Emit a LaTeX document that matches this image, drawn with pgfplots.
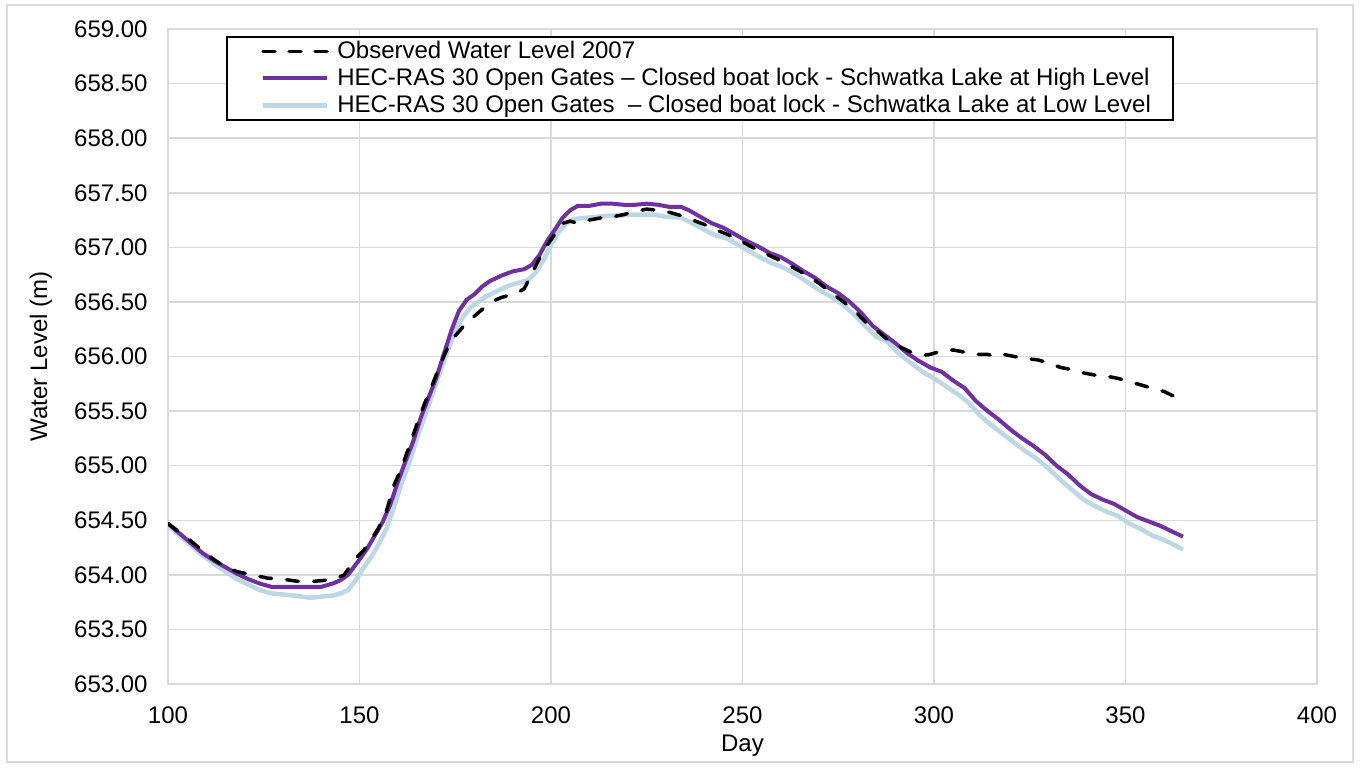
\documentclass[border=0pt]{standalone}
\usepackage{pgfplots}
\pgfplotsset{compat=1.18}
\usepackage{fontspec}
\setmainfont{Liberation Sans}
\definecolor{gridgray}{HTML}{D9D9D9}
\definecolor{highpurple}{HTML}{7030A0}
\definecolor{lowblue}{HTML}{BDD7E5}

\begin{document}
\fontsize{12}{14}\selectfont
\begin{tikzpicture}
\useasboundingbox (0,0) rectangle (682pt,383.5pt);
\draw[gridgray, line width=0.75pt] (3.5pt,2.5pt) rectangle (676.5pt,381pt);
\begin{axis}[
  at={(84pt,41.5pt)}, anchor=south west,
  scale only axis, width=574.5pt, height=327.5pt,
  xmin=100, xmax=400, ymin=653, ymax=659,
  xtick={100,150,200,250,300,350,400},
  ytick={653,653.5,654,654.5,655,655.5,656,656.5,657,657.5,658,658.5,659},
  /pgf/number format/assume math mode=true,
  y tick label style={/pgf/number format/fixed, /pgf/number format/fixed zerofill, /pgf/number format/precision=2},
  x tick label style={/pgf/number format/1000 sep={}},
  grid=major,
  major grid style={gridgray, line width=0.75pt},
  axis line style={gridgray, line width=0.75pt},
  major tick length=0pt,
  tick style={draw=none},
  xticklabel style={anchor=center, yshift=-15.5pt},
  yticklabel style={anchor=east, inner xsep=0pt, xshift=-10pt},
  xlabel={Day}, ylabel={Water Level (m)},
  xlabel style={at={(axis description cs:0.5,-0.095)}, anchor=center},
  ylabel style={at={(axis description cs:-0.1105,0.5)}, anchor=center, rotate=0},
  legend style={at={(axis description cs:0.0505,0.989)}, anchor=north west,
    draw=black, line width=0.75pt, fill=white, inner xsep=9pt, inner ysep=0pt,
    row sep=-1pt},
  legend cell align=left,
  legend image code/.code={\path (0pt,0pt) (42pt,0pt); \draw[#1] (8pt,0pt) -- (40pt,0pt);},
]
\addlegendimage{black, line width=1.75pt, dash pattern=on 6pt off 7pt, line cap=round}
\addlegendentry{Observed Water Level 2007}
\addlegendimage{highpurple, line width=2pt}
\addlegendentry{HEC-RAS 30 Open Gates – Closed boat lock - Schwatka Lake at High Level}
\addlegendimage{lowblue, line width=2.25pt}
\addlegendentry{HEC-RAS 30 Open Gates\ \ – Closed boat lock - Schwatka Lake at Low Level}

% low level
\addplot[lowblue, line width=2.25pt, line join=round, forget plot] coordinates {
(100,654.46)(103,654.36)(106,654.27)(109,654.18)(112,654.10)(115,654.03)(118,653.96)(121,653.91)(124,653.86)(127,653.83)(130,653.82)(133,653.81)(137,653.79)(140,653.80)(143,653.81)(145,653.83)(147,653.86)(149,653.95)(151,654.06)(153,654.16)(155,654.28)(157,654.42)(159,654.62)(161,654.84)(163,655.03)(165,655.25)(167,655.45)(169,655.65)(171,655.86)(173,656.05)(175,656.24)(177,656.36)(179,656.45)(181,656.50)(183,656.55)(186,656.60)(189,656.65)(192,656.68)(194,656.70)(196,656.77)(198,656.88)(200,657.02)(202,657.14)(204,657.22)(206,657.26)(209,657.27)(212,657.28)(215,657.29)(218,657.29)(221,657.30)(224,657.30)(227,657.30)(230,657.28)(234,657.27)(237,657.22)(240,657.16)(243,657.11)(246,657.08)(249,657.02)(252,656.96)(255,656.90)(258,656.85)(261,656.81)(264,656.75)(267,656.68)(270,656.61)(273,656.55)(276,656.48)(279,656.39)(282,656.28)(285,656.18)(288,656.13)(291,656.02)(294,655.94)(297,655.86)(300,655.80)(303,655.73)(306,655.66)(309,655.58)(312,655.46)(315,655.37)(318,655.29)(321,655.21)(324,655.13)(327,655.06)(330,654.97)(333,654.87)(336,654.78)(339,654.69)(342,654.63)(345,654.58)(348,654.54)(351,654.47)(354,654.42)(357,654.36)(360,654.32)(363,654.27)(365,654.23)
};
% high level
\addplot[highpurple, line width=2pt, line join=round, forget plot] coordinates {
(100,654.47)(103,654.38)(106,654.29)(109,654.20)(112,654.13)(115,654.07)(118,654.01)(121,653.96)(124,653.92)(127,653.89)(130,653.89)(133,653.89)(137,653.89)(140,653.89)(143,653.92)(145,653.95)(147,654.00)(150,654.14)(152,654.24)(154,654.36)(156,654.48)(158,654.64)(160,654.85)(162,655.04)(164,655.22)(166,655.44)(168,655.62)(170,655.80)(172,656.02)(174,656.24)(176,656.42)(178,656.52)(180,656.57)(182,656.64)(184,656.69)(187,656.74)(190,656.78)(193,656.80)(195,656.84)(197,656.93)(199,657.06)(201,657.16)(203,657.27)(205,657.34)(207,657.38)(210,657.38)(213,657.40)(216,657.40)(219,657.39)(222,657.39)(225,657.40)(228,657.39)(231,657.37)(234,657.37)(236,657.34)(239,657.28)(242,657.22)(245,657.18)(248,657.12)(251,657.06)(254,657.01)(257,656.95)(260,656.91)(263,656.85)(266,656.78)(269,656.72)(272,656.64)(275,656.58)(278,656.50)(281,656.40)(284,656.28)(287,656.20)(290,656.12)(293,656.03)(296,655.96)(299,655.90)(302,655.86)(305,655.78)(308,655.71)(311,655.59)(314,655.50)(317,655.42)(320,655.33)(323,655.25)(326,655.18)(329,655.10)(332,655.00)(335,654.92)(338,654.82)(341,654.74)(344,654.69)(347,654.65)(350,654.59)(353,654.53)(356,654.49)(359,654.45)(362,654.40)(365,654.35)
};
% observed
\addplot[black, line width=1.75pt, dash pattern=on 6pt off 7.5pt, line cap=round, line join=round, forget plot] coordinates {
(100,654.47)(103,654.39)(106,654.31)(109,654.22)(112,654.14)(115,654.07)(118,654.03)(122,654.00)(126,653.97)(130,653.96)(134,653.94)(138,653.94)(141,653.95)(144,653.97)(146,654.00)(148,654.10)(149,654.15)(151,654.22)(153,654.32)(155,654.43)(157,654.58)(159,654.82)(161,654.98)(163,655.18)(165,655.38)(167,655.57)(169,655.74)(171,655.92)(173,656.08)(175,656.19)(177,656.27)(179,656.34)(181,656.40)(183,656.46)(185,656.51)(187,656.54)(189,656.56)(191,656.58)(193,656.62)(195,656.76)(197,656.90)(199,657.02)(201,657.12)(203,657.22)(205,657.24)(207,657.22)(210,657.25)(213,657.27)(216,657.28)(219,657.30)(222,657.33)(225,657.35)(228,657.34)(231,657.32)(234,657.29)(237,657.25)(240,657.21)(243,657.16)(246,657.12)(249,657.07)(252,657.01)(255,656.96)(258,656.91)(261,656.86)(264,656.80)(267,656.74)(270,656.67)(273,656.59)(276,656.51)(279,656.43)(282,656.32)(285,656.24)(288,656.15)(291,656.09)(294,656.04)(297,656.01)(299,656.02)(302,656.05)(305,656.06)(308,656.04)(311,656.02)(314,656.02)(316,656.00)(318,656.02)(321,656.00)(324,655.98)(327,655.97)(330,655.94)(333,655.90)(336,655.88)(339,655.85)(342,655.83)(345,655.82)(348,655.80)(351,655.77)(354,655.74)(357,655.71)(360,655.68)(363,655.63)(365,655.60)
};
\end{axis}
\end{tikzpicture}
\end{document}
